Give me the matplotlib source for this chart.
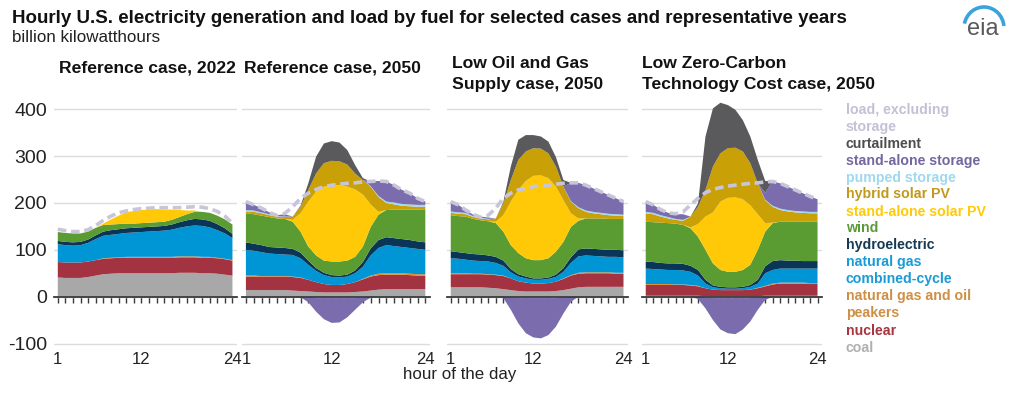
import numpy as np
import matplotlib
matplotlib.use("Agg")
import matplotlib.pyplot as plt
from matplotlib.patches import Arc

plt.rcParams['font.family'] = ['Liberation Sans', 'DejaVu Sans']
plt.rcParams['axes.unicode_minus'] = False

hours = list(range(1, 25))

# ---------------- Reference case, 2022 ----------------
ref22_coal    = [41,40,40,40,42,45,48,49,50,50,50,50,50,50,50,50,51,51,51,50,50,49,47,45]
ref22_nuclear = [33,33,33,33,33,33,33,33,33,33,33,33,33,33,33,33,33,33,33,33,33,33,33,32]
ref22_peakers = [0,0,0,0,0,0,1,1,1,2,2,2,2,2,2,2,2,2,2,2,2,1,1,1]
ref22_ngcc    = [38,37,36,37,40,45,48,49,50,51,52,53,54,55,56,58,61,64,66,66,63,59,54,47]
ref22_hydro   = [7,7,7,7,7,8,9,10,10,10,10,10,10,10,10,11,12,13,14,14,14,13,11,9]
ref22_wind    = [19,19,19,18,17,16,14,12,11,10,9,9,9,9,9,10,11,13,15,16,17,18,19,20]
ref22_solar   = [0,0,0,0,0,0,3,11,18,24,27,28,28,28,26,22,15,8,3,0,0,0,0,0]
ref22_hybrid  = [0]*24
ref22_pumped  = [0]*24
ref22_storage = [0]*24
ref22_curtail = [0]*24
ref22_pumped_neg  = [0]*24
ref22_storage_neg = [0]*24
ref22_load    = [144,141,139,139,143,152,163,172,179,183,186,188,189,190,190,190,190,191,192,191,188,182,172,157]

# ---------------- Reference case, 2050 ----------------
ref50_coal    = [14,14,14,14,14,14,13,12,11,10,9,9,9,9,10,11,13,15,16,16,16,16,16,16]
ref50_nuclear = [29,29,29,29,29,29,29,28,25,21,18,16,16,18,21,26,30,31,31,31,31,30,29,29]
ref50_peakers = [2,2,1,1,1,1,1,1,0,0,0,0,0,0,0,1,2,3,3,3,3,3,3,3]
ref50_ngcc    = [55,53,51,48,47,46,46,41,32,24,19,17,16,16,19,26,43,55,60,58,56,55,54,52]
ref50_hydro   = [16,15,15,14,14,14,13,12,9,6,5,4,4,4,6,10,15,17,17,17,17,17,16,16]
ref50_wind    = [62,63,63,64,62,62,58,45,30,27,26,29,30,30,29,33,46,54,58,61,63,65,68,69]
ref50_solar   = [0,0,0,0,0,0,4,39,96,136,158,163,163,158,144,111,48,6,0,0,0,0,0,0]
ref50_hybrid  = [4,5,5,4,4,4,7,14,25,39,50,52,51,47,34,31,38,32,15,11,8,7,6,7]
ref50_pumped  = [3,3,2,2,1,1,0,0,0,0,0,0,0,0,0,0,1,2,3,4,4,4,4,4]
ref50_storage = [18,12,9,4,2,5,0,0,0,0,0,0,0,0,0,0,10,32,43,37,30,24,14,7]
ref50_curtail = [0,0,0,0,0,0,0,2,14,36,42,42,40,31,18,4,0,0,0,0,0,0,0,0]
ref50_pumped_neg  = [0,0,0,0,0,0,0,0,-2,-3,-3,-3,-3,-3,-3,-2,0,0,0,0,0,0,0,0]
ref50_storage_neg = [0,0,0,0,0,0,0,-1,-10,-29,-45,-53,-52,-41,-25,-10,-2,0,0,0,0,0,0,0]
ref50_load    = [203,196,189,180,173,178,192,210,221,229,235,238,240,242,243,245,246,247,246,238,228,221,210,203]

# ---------------- Low Oil and Gas Supply case, 2050 ----------------
log_coal    = [20,20,20,20,20,19,18,16,14,12,11,11,11,11,12,14,17,20,21,21,21,21,21,21]
log_nuclear = [28,28,28,28,28,28,28,28,25,21,19,17,17,18,20,24,28,29,29,29,29,29,28,28]
log_peakers = [2,2,2,1,1,1,1,1,0,0,0,0,0,0,0,1,1,2,2,2,2,2,2,2]
log_ngcc    = [32,31,29,28,27,27,25,21,13,10,9,8,8,9,10,14,26,35,36,35,34,33,34,33]
log_hydro   = [15,14,14,14,14,13,13,11,7,5,4,3,3,3,5,8,12,15,15,15,15,15,15,15]
log_wind    = [77,77,78,75,73,73,72,62,51,45,39,39,39,41,49,56,65,61,64,65,66,66,66,67]
log_solar   = [0,0,0,0,0,0,3,35,93,135,165,180,181,171,139,89,29,5,0,0,0,0,0,0]
log_hybrid  = [5,5,5,4,4,4,7,25,46,64,63,59,57,53,43,29,25,22,14,11,9,8,7,6]
log_pumped  = [3,3,3,2,2,1,0,0,0,0,0,0,0,0,0,0,1,2,3,3,3,3,3,3]
log_storage = [21,16,6,3,2,3,0,0,0,0,0,0,0,0,0,0,39,52,54,50,45,40,34,28]
log_curtail = [0,0,0,0,0,0,0,3,29,43,35,28,26,25,20,14,0,0,0,0,0,0,0,0]
log_pumped_neg  = [0,0,0,0,0,0,0,0,-2,-3,-3,-3,-3,-3,-3,-2,0,0,0,0,0,0,0,0]
log_storage_neg = [0,0,0,0,0,0,0,-3,-26,-54,-75,-84,-86,-79,-61,-34,-11,0,0,0,0,0,0,0]
log_load    = [203,196,185,176,169,174,189,210,221,228,231,235,237,238,240,242,243,243,238,231,224,217,210,203]

# ---------------- Low Zero-Carbon Technology Cost case, 2050 ----------------
lzc_coal    = [2,2,2,2,2,2,2,2,1,1,1,1,1,1,1,1,2,2,2,2,2,2,2,2]
lzc_nuclear = [23,23,23,23,23,23,22,20,17,14,13,13,13,13,14,17,20,24,26,26,26,26,25,25]
lzc_peakers = [2,2,2,2,1,1,1,1,0,0,0,0,0,0,0,1,1,2,2,2,2,2,2,2]
lzc_ngcc    = [33,32,31,30,31,30,28,22,10,5,4,3,3,4,6,9,27,29,30,30,30,30,31,31]
lzc_hydro   = [15,15,14,14,14,14,13,12,8,4,3,3,3,3,4,8,15,19,18,17,17,16,16,16]
lzc_wind    = [85,85,86,86,85,83,80,71,64,47,36,33,33,36,43,64,74,81,82,83,83,84,84,84]
lzc_solar   = [0,0,0,0,0,0,2,27,71,109,146,158,159,151,127,76,18,1,0,0,0,0,0,0]
lzc_hybrid  = [18,17,13,10,8,9,23,37,57,98,103,106,106,102,90,66,49,34,25,22,20,19,18,18]
lzc_pumped  = [3,3,3,3,2,2,0,0,0,0,0,0,0,0,0,0,1,2,3,3,3,3,3,3]
lzc_storage = [22,17,12,9,10,12,0,0,0,0,0,0,0,0,0,0,15,52,54,50,45,39,33,27]
lzc_curtail = [0,0,0,0,0,0,0,7,114,124,108,92,81,67,57,50,25,0,0,0,0,0,0,0]
lzc_pumped_neg  = [0,0,0,0,0,0,0,0,-2,-3,-3,-3,-3,-3,-3,-2,0,0,0,0,0,0,0,0]
lzc_storage_neg = [0,0,0,0,0,0,0,-5,-23,-47,-67,-75,-77,-67,-50,-26,-7,0,0,0,0,0,0,0]
lzc_load    = [203,196,186,179,177,181,196,210,222,229,233,236,238,240,242,243,245,246,242,235,228,221,214,208]

panel_titles = [["Reference case, 2022"], ["Reference case, 2050"],
                ["Low Oil and Gas", "Supply case, 2050"],
                ["Low Zero-Carbon", "Technology Cost case, 2050"]]

legend_labels = ["load, excluding", "storage", "curtailment", "stand-alone storage",
                 "pumped storage", "hybrid solar PV", "stand-alone solar PV", "wind",
                 "hydroelectric", "natural gas", "combined-cycle", "natural gas and oil",
                 "peakers", "nuclear", "coal"]
legend_colors = ["#c3c1d6", "#c3c1d6", "#4d4d4f", "#7367a0", "#9fd8ef", "#c19a1b",
                 "#ffcb05", "#5b9a3a", "#163a55", "#1a9bd7", "#1a9bd7", "#cf8f45",
                 "#cf8f45", "#a8353f", "#b0b0b0"]

# fill colours, bottom to top
fill_colors = ["#a8a8a8", "#a33340", "#e08a2a", "#0096d6", "#0b3556", "#5a9b32",
               "#ffc907", "#c9a005", "#9dd9f3", "#7b6cad", "#5a5a5c"]
neg_colors = ["#9dd9f3", "#7b6cad"]
load_color = "#c8c5da"

cases = [
    ([ref22_coal, ref22_nuclear, ref22_peakers, ref22_ngcc, ref22_hydro, ref22_wind,
      ref22_solar, ref22_hybrid, ref22_pumped, ref22_storage, ref22_curtail],
     [ref22_pumped_neg, ref22_storage_neg], ref22_load),
    ([ref50_coal, ref50_nuclear, ref50_peakers, ref50_ngcc, ref50_hydro, ref50_wind,
      ref50_solar, ref50_hybrid, ref50_pumped, ref50_storage, ref50_curtail],
     [ref50_pumped_neg, ref50_storage_neg], ref50_load),
    ([log_coal, log_nuclear, log_peakers, log_ngcc, log_hydro, log_wind,
      log_solar, log_hybrid, log_pumped, log_storage, log_curtail],
     [log_pumped_neg, log_storage_neg], log_load),
    ([lzc_coal, lzc_nuclear, lzc_peakers, lzc_ngcc, lzc_hydro, lzc_wind,
      lzc_solar, lzc_hybrid, lzc_pumped, lzc_storage, lzc_curtail],
     [lzc_pumped_neg, lzc_storage_neg], lzc_load),
]

W, H = 1024, 395
fig = plt.figure(figsize=(W / 100, H / 100), dpi=100)
fig.patch.set_facecolor("white")
renderer = fig.canvas.get_renderer()


def fit(t, target_px):
    bb = t.get_window_extent(renderer)
    t.set_fontsize(t.get_fontsize() * target_px / bb.width)
    return t


def ftext(x, y, s, **kw):
    return fig.text(x / W, 1 - y / H, s, **kw)


panel_x = [(54, 237), (242, 430), (447, 628), (642, 822)]
ax_top, ax_bot = 95.25, 348.2
ymin, ymax = -110, 430

axes = []
for i, ((x0, x1), (layers, negs, load)) in enumerate(zip(panel_x, cases)):
    ax = fig.add_axes([x0 / W, 1 - ax_bot / H, (x1 - x0) / W, (ax_bot - ax_top) / H])
    axes.append(ax)
    ax.set_xlim(0.5, 24.6)
    ax.set_ylim(ymin, ymax)
    ax.stackplot(hours, *layers, colors=fill_colors, linewidth=0, zorder=2)
    ax.stackplot(hours, *negs, colors=neg_colors, linewidth=0, zorder=2)
    ax.plot(hours, load, color=load_color, lw=2.6, linestyle=(0, (2.4, 1.3)),
            solid_capstyle="butt", dash_capstyle="butt", zorder=4)
    ax.set_yticks([-100, 0, 100, 200, 300, 400])
    ax.yaxis.grid(True, color="#dcdcdc", lw=1.0, zorder=0)
    ax.set_axisbelow(True)
    for s in ("top", "left", "right"):
        ax.spines[s].set_visible(False)
    ax.spines["bottom"].set_position(("data", 0))
    ax.spines["bottom"].set_color("#3a3a3a")
    ax.spines["bottom"].set_linewidth(1.3)
    ax.spines["bottom"].set_zorder(5)
    ax.set_xticks(hours)
    ax.tick_params(axis="x", direction="out", length=4, width=1, color="#3a3a3a",
                   labelbottom=False)
    if i == 0:
        ax.tick_params(axis="y", length=0, labelsize=14, pad=5, labelcolor="#222222")
    else:
        ax.tick_params(axis="y", length=0, labelleft=False)
    sec = ax.secondary_xaxis("bottom")
    sec.set_xticks([1, 12, 24])
    sec.tick_params(length=0, labelsize=12, pad=3, labelcolor="#222222")
    sec.spines["bottom"].set_visible(False)

# Titles
t = ftext(12, 23, "Hourly U.S. electricity generation and load by fuel for selected cases and representative years",
          fontsize=14, fontweight="bold", color="#111111", va="baseline", ha="left")
fit(t, 840)
t = ftext(12, 42.5, "billion kilowatthours", fontsize=12, color="#222222", va="baseline", ha="left")
fit(t, 148)

# panel titles
probe = ftext(59, 72.7, panel_titles[0][0], fontsize=12, fontweight="bold", color="#111111",
              va="baseline", ha="left")
fit(probe, 176)
pfs = probe.get_fontsize()
ftext(243.5, 72.7, panel_titles[1][0], fontsize=pfs, fontweight="bold", color="#111111",
      va="baseline", ha="left")
ftext(451.5, 68.3, panel_titles[2][0], fontsize=pfs, fontweight="bold", color="#111111",
      va="baseline", ha="left")
ftext(451.5, 89.0, panel_titles[2][1], fontsize=pfs, fontweight="bold", color="#111111",
      va="baseline", ha="left")
ftext(641.5, 68.3, panel_titles[3][0], fontsize=pfs, fontweight="bold", color="#111111",
      va="baseline", ha="left")
ftext(641.5, 89.0, panel_titles[3][1], fontsize=pfs, fontweight="bold", color="#111111",
      va="baseline", ha="left")

# legend
leg_y = [110.3, 127.2, 144.3, 160.9, 177.8, 194.5, 211.5, 228.4, 245.5, 262.4,
         279.3, 296.2, 313.2, 330.6, 347.7]
lt = ftext(846, leg_y[2], legend_labels[2], fontsize=10, fontweight="bold", va="center", ha="left")
fit(lt, 76)
lfs = lt.get_fontsize()
lt.remove()
for lab, col, y in zip(legend_labels, legend_colors, leg_y):
    ftext(846, y, lab, fontsize=lfs, fontweight="bold", color=col, va="center", ha="left")

# x label
t = ftext(460, 375, "hour of the day", fontsize=12.5, color="#222222", va="center", ha="center")
fit(t, 113)

# eia logo
ftext(983, 35, "eia", fontsize=17, color="#58595b", va="baseline", ha="center")
arc = Arc((984 / W, 1 - 28 / H), 40 / W, 42 / H, theta1=15, theta2=150,
          transform=fig.transFigure, color="#3aa3dc", lw=2.6)
fig.add_artist(arc)

fig.savefig("out.png", dpi=100, facecolor="white")
